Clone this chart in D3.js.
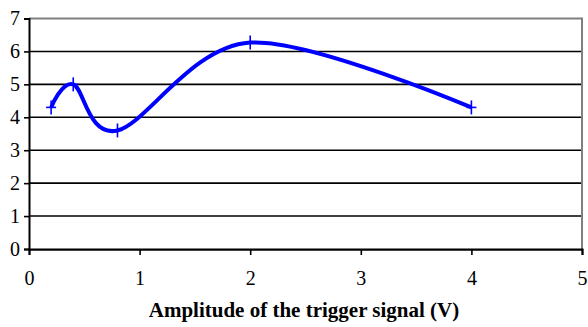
<!DOCTYPE html>
<html>
<head>
<meta charset="utf-8">
<script src="https://cdn.jsdelivr.net/npm/d3@7"></script>
<style>
  html, body { margin: 0; padding: 0; background: #fff; }
  svg { display: block; }
  text { font-family: "Liberation Serif", "Times New Roman", serif; fill: #000; }
</style>
</head>
<body>
<svg id="chart" width="588" height="327"></svg>
<script>
// Data
const amplitudeV = [0.2, 0.4, 0.8, 2.0, 4.0];
const responseValues = [4.3, 5.0, 3.6, 6.27, 4.3];
const xTicks = [0, 1, 2, 3, 4, 5];
const yTicks = [0, 1, 2, 3, 4, 5, 6, 7];
const xTitle = "Amplitude of the trigger signal (V)";

const svg = d3.select("#chart");
const mLeft = 29, mRight = 582, mTop = 18.5, mBottom = 249;

const x = d3.scaleLinear().domain([0, 5]).range([mLeft, mRight]);
const y = d3.scaleLinear().domain([0, 7]).range([mBottom, mTop]);

// gridlines
svg.append("g").selectAll("line")
  .data(yTicks.filter(d => d > 0 && d < 7))
  .join("line")
  .attr("x1", mLeft).attr("x2", mRight)
  .attr("y1", d => y(d)).attr("y2", d => y(d))
  .attr("stroke", "#000").attr("stroke-width", 1.6);

// top and right border (gray)
svg.append("line").attr("x1", mLeft).attr("x2", mRight + 1)
  .attr("y1", mTop).attr("y2", mTop)
  .attr("stroke", "#808080").attr("stroke-width", 2);
svg.append("line").attr("x1", mRight).attr("x2", mRight)
  .attr("y1", mTop).attr("y2", mBottom)
  .attr("stroke", "#808080").attr("stroke-width", 2);
// gray line just under zero axis
svg.append("line").attr("x1", mLeft).attr("x2", mRight)
  .attr("y1", mBottom + 1.5).attr("y2", mBottom + 1.5)
  .attr("stroke", "#808080").attr("stroke-width", 1);

// x axis
const xAxis = svg.append("g")
  .attr("transform", `translate(0,${mBottom})`)
  .call(d3.axisBottom(x).tickValues(xTicks).tickSize(6).tickPadding(16).tickFormat(d3.format("d")));
xAxis.select(".domain").attr("stroke", "#000").attr("stroke-width", 2);
xAxis.selectAll(".tick line").attr("stroke", "#000").attr("stroke-width", 1.6);
xAxis.selectAll("text").attr("font-size", 20).attr("font-family", "Liberation Serif");

// y axis
const yAxis = svg.append("g")
  .attr("transform", `translate(${mLeft},0)`)
  .call(d3.axisLeft(y).tickValues(yTicks).tickSize(5).tickPadding(4).tickFormat(d3.format("d")));
yAxis.select(".domain").attr("stroke", "#000").attr("stroke-width", 2);
yAxis.selectAll(".tick line").attr("stroke", "#000").attr("stroke-width", 1.6);
yAxis.selectAll("text").attr("font-size", 20).attr("font-family", "Liberation Serif");

// series line
const pts = amplitudeV.map((v, i) => [v, responseValues[i]]);
const line = d3.line()
  .x(d => x(d[0])).y(d => y(d[1]))
  .curve(d3.curveCardinal.tension(0));
svg.append("path").datum(pts)
  .attr("d", line)
  .attr("fill", "none")
  .attr("stroke", "#0000ff")
  .attr("stroke-width", 4)
  .attr("stroke-linejoin", "round");

// markers "+"
const mk = svg.append("g").selectAll("g").data(pts).join("g")
  .attr("transform", d => `translate(${x(d[0])},${y(d[1])})`);
mk.append("line").attr("x1", -5).attr("x2", 5).attr("y1", 0).attr("y2", 0)
  .attr("stroke", "#0000ff").attr("stroke-width", 1.6);
mk.append("line").attr("x1", 0).attr("x2", 0).attr("y1", -7).attr("y2", 7)
  .attr("stroke", "#0000ff").attr("stroke-width", 1.6);

// title
svg.append("text")
  .attr("x", 304).attr("y", 317)
  .attr("text-anchor", "middle")
  .attr("font-size", 21).attr("font-weight", "bold")
  .text(xTitle);
</script>
</body>
</html>
